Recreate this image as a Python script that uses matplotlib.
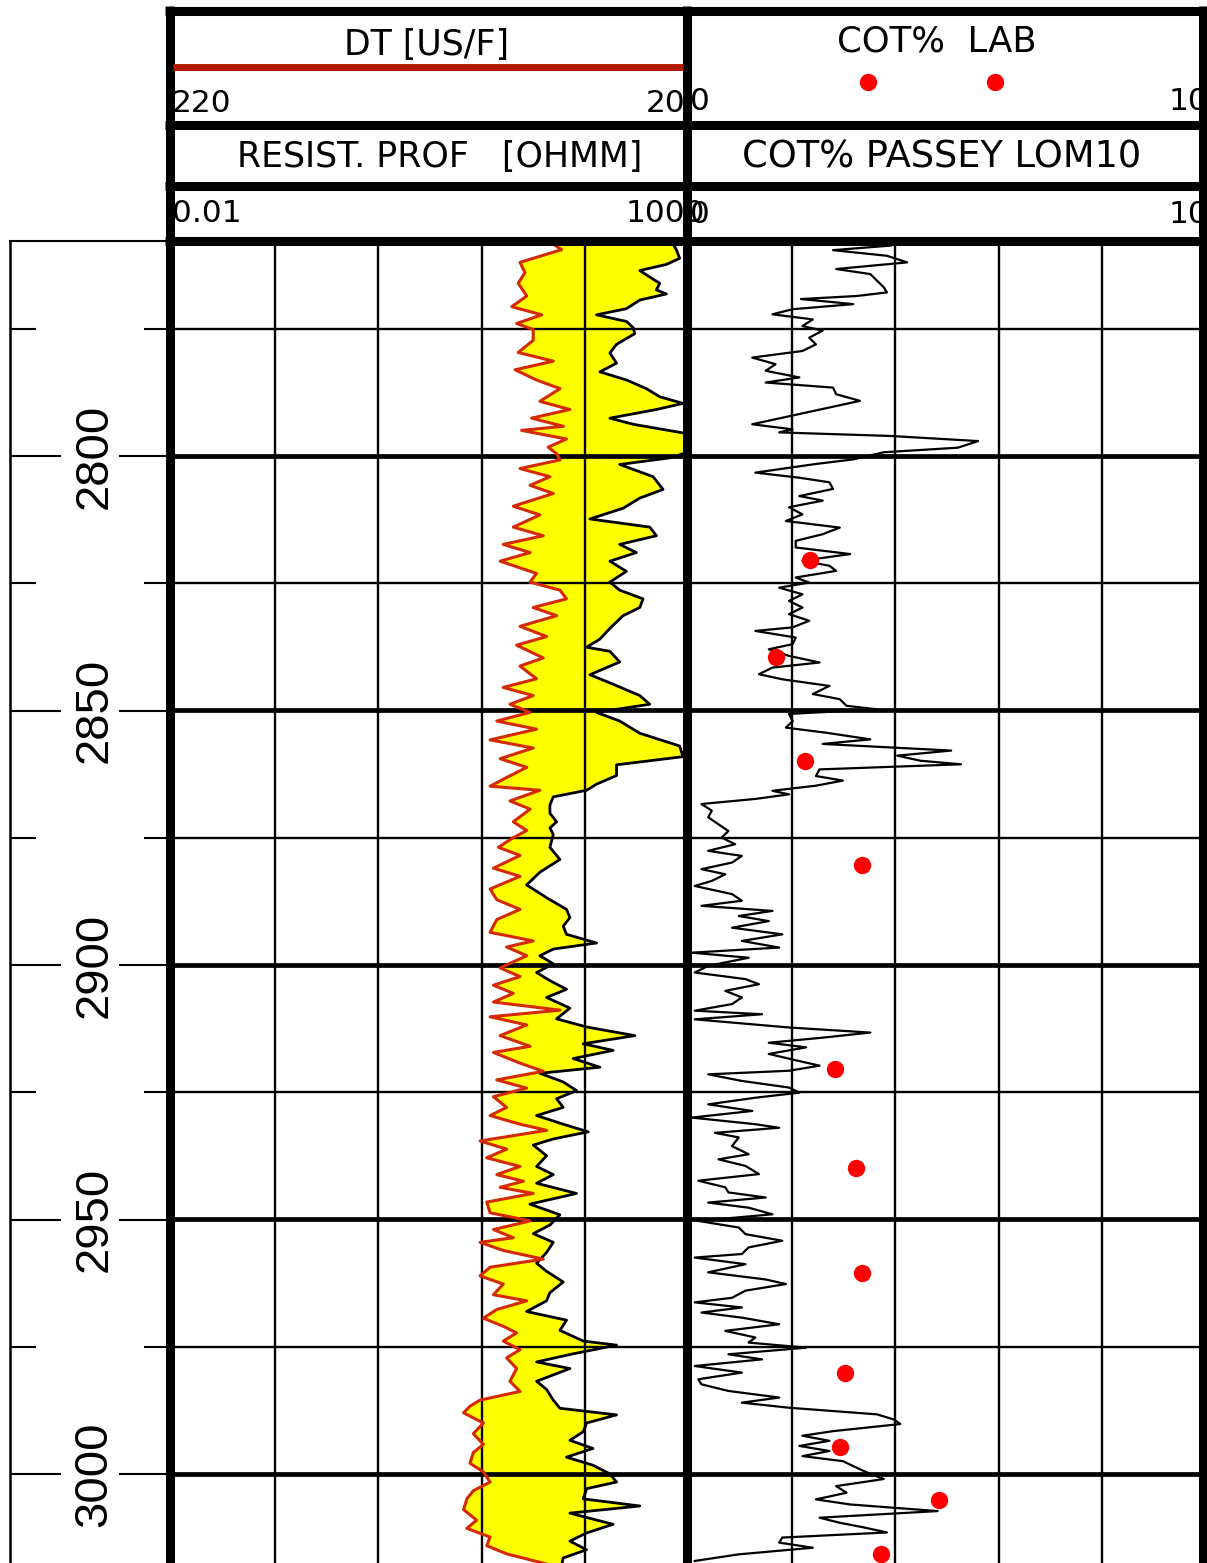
import numpy as np
import matplotlib
matplotlib.use("Agg")
import matplotlib.pyplot as plt
import matplotlib.transforms as mtransforms

# profondeurs affichées
depth_top, depth_bottom = 2757.7, 3017.5
major_depths = [2800, 2850, 2900, 2950, 3000]
minor_depths = [2775, 2825, 2875, 2925, 2975]

# DT [US/F]
dt_depth = [2758.4, 2759.5, 2762.0, 2764.0, 2766.1, 2768.6, 2770.7, 2772.3, 2774.0, 2775.2,
            2777.3, 2779.7, 2781.4, 2783.1, 2785.1, 2786.8, 2789.3, 2790.9, 2792.6, 2794.2,
            2795.0, 2796.7, 2798.3, 2799.6, 2800.8, 2802.5, 2804.1, 2805.8, 2807.4, 2809.9,
            2811.6, 2814.0, 2815.7, 2817.4, 2819.0, 2820.7, 2823.1, 2824.8, 2826.4, 2828.1,
            2829.8, 2831.4, 2833.5, 2835.5, 2837.2, 2839.7, 2841.3, 2843.8, 2845.5, 2847.1,
            2848.8, 2850.4, 2852.1, 2853.7, 2855.8, 2857.4, 2859.5, 2861.2, 2863.2, 2864.9,
            2865.7, 2867.8, 2869.4, 2871.9, 2873.6, 2875.2, 2876.9, 2878.5, 2881.0, 2882.6,
            2885.1, 2887.2, 2889.1, 2891.1, 2893.6, 2895.3, 2896.5, 2898.2, 2900.6, 2902.3,
            2904.0, 2905.6, 2907.3, 2908.9, 2910.2, 2911.8, 2913.9, 2916.0, 2917.2, 2919.3,
            2920.9, 2922.6, 2924.2, 2925.9, 2928.0, 2929.6, 2931.3, 2932.5, 2934.6, 2936.2,
            2937.9, 2939.6, 2941.2, 2942.5, 2943.7, 2944.9, 2946.6, 2948.7, 2950.3, 2952.0,
            2953.6, 2954.5, 2956.1, 2957.8, 2959.4, 2961.1, 2962.7, 2964.8, 2966.0, 2967.7,
            2969.4, 2971.0, 2972.3, 2973.9, 2975.6, 2977.2, 2979.3, 2981.8, 2983.8, 2985.5,
            2986.7, 2988.0, 2990.0, 2992.1, 2994.2, 2995.8, 2997.9, 2999.6, 3001.6, 3003.3,
            3004.9, 3007.0, 3009.1, 3010.7, 3012.4, 3014.1, 3015.7, 3017.7]
dt_us = [72.2, 69.0, 85.1, 83.2, 85.8, 82.5, 88.3, 76.7, 86.4, 80.0,
         80.0, 85.8, 72.2, 87.0, 78.7, 69.6, 77.4, 65.8, 80.6, 68.3,
         84.5, 67.1, 74.2, 70.9, 69.6, 85.1, 73.5, 81.2, 72.2, 87.7,
         77.4, 87.7, 76.1, 91.6, 81.2, 92.8, 78.7, 81.2, 69.6, 67.1,
         80.0, 70.9, 85.1, 74.8, 86.4, 76.1, 85.1, 78.7, 91.6, 80.0,
         89.0, 81.2, 94.1, 78.7, 96.7, 80.0, 92.8, 82.5, 90.3, 96.7,
         77.4, 89.0, 81.2, 87.7, 82.5, 88.3, 93.5, 85.1, 95.4, 85.1,
         96.7, 94.1, 85.1, 94.1, 96.7, 80.0, 90.3, 82.5, 92.8, 85.1,
         95.4, 87.7, 95.4, 69.6, 96.7, 82.5, 92.8, 81.2, 95.4, 85.1,
         76.1, 94.1, 82.5, 95.4, 90.3, 96.7, 85.1, 74.8, 100.6, 90.3,
         98.0, 85.1, 94.1, 83.8, 92.8, 80.0, 98.0, 96.7, 81.2, 95.4,
         87.7, 100.6, 91.6, 76.1, 96.7, 100.6, 91.6, 95.4, 82.5, 94.1,
         99.3, 91.6, 86.4, 91.6, 85.1, 90.3, 86.4, 89.0, 85.1, 100.6,
         104.5, 107.0, 99.3, 103.2, 99.3, 103.2, 104.5, 99.3, 96.7, 103.2,
         105.7, 107.0, 101.9, 105.7, 96.7, 98.0, 90.3, 74.8]

# RESIST. PROF [OHMM]
res_depth = [2758.4, 2759.5, 2761.2, 2762.4, 2763.6, 2765.3, 2766.1, 2767.4, 2768.2, 2769.4,
             2771.1, 2772.3, 2773.6, 2774.8, 2776.0, 2778.1, 2779.8, 2781.8, 2783.5, 2785.1,
             2786.8, 2788.4, 2789.7, 2790.9, 2792.6, 2793.8, 2795.5, 2796.7, 2798.8, 2800.4,
             2801.7, 2804.1, 2806.6, 2808.3, 2810.3, 2812.4, 2814.0, 2815.7, 2817.4, 2819.0,
             2820.7, 2822.7, 2824.8, 2826.4, 2828.1, 2829.8, 2831.4, 2833.9, 2836.0, 2837.6,
             2838.4, 2840.5, 2843.0, 2844.6, 2847.1, 2848.8, 2850.4, 2852.1, 2854.5, 2857.0,
             2859.1, 2860.7, 2862.8, 2864.5, 2865.7, 2867.0, 2868.6, 2870.2, 2871.9, 2873.1,
             2874.4, 2876.9, 2879.3, 2881.8, 2884.3, 2886.8, 2889.1, 2890.7, 2892.4, 2894.0,
             2895.7, 2896.9, 2898.2, 2899.8, 2901.5, 2903.1, 2904.8, 2906.4, 2908.5, 2910.6,
             2912.2, 2913.9, 2915.5, 2916.8, 2918.4, 2920.1, 2921.3, 2923.0, 2924.7, 2926.3,
             2928.0, 2929.6, 2931.3, 2932.8, 2934.2, 2935.4, 2937.5, 2939.6, 2941.2, 2942.9,
             2944.9, 2947.0, 2949.1, 2951.1, 2952.8, 2954.5, 2956.5, 2958.6, 2960.2, 2962.3,
             2964.4, 2966.0, 2968.1, 2969.8, 2971.8, 2973.9, 2974.7, 2976.4, 2978.0, 2979.3,
             2981.8, 2983.4, 2985.5, 2987.1, 2988.4, 2990.0, 2991.7, 2993.4, 2995.0, 2996.7,
             2998.3, 3000.0, 3001.6, 3002.9, 3004.9, 3006.3, 3007.7, 3009.9, 3011.6, 3013.2,
             3014.9, 3016.5, 3017.7]
res_ohmm = [716, 771, 830, 617, 341, 459, 532, 494, 617, 341,
            253, 130, 253, 294, 305, 203, 175, 203, 140, 253,
            395, 532, 895, 494, 175, 294, 895, 1200, 1200, 665,
            218, 459, 573, 341, 235, 112, 426, 494, 218, 316,
            175, 253, 175, 218, 367, 341, 235, 175, 140, 104,
            175, 218, 112, 175, 341, 426, 130, 218, 341, 830,
            895, 203, 203, 130, 104, 49.5, 45.9, 45.9, 53.3, 45.9,
            49.5, 45.9, 57.4, 36.7, 27.3, 42.6, 66.5, 71.7, 61.8, 66.5,
            130, 49.5, 36.7, 49.5, 34.1, 45.9, 66.5, 42.6, 71.7, 53.3,
            104, 305, 96.6, 188, 77.3, 140, 36.7, 61.8, 83.2, 53.3,
            61.8, 34.1, 61.8, 108, 49.5, 31.7, 42.6, 34.1, 49.5, 34.1,
            83.2, 29.4, 57.4, 45.9, 31.7, 49.5, 42.6, 34.1, 42.6, 61.8,
            45.9, 42.6, 27.3, 66.5, 57.4, 96.6, 203, 77.3, 34.1, 71.7,
            34.1, 42.6, 49.5, 57.4, 203, 104, 96.6, 71.7, 120, 66.5,
            120, 175, 203, 104, 96.6, 341, 71.7, 188, 104, 71.7,
            104, 61.8, 60]

# COT% PASSEY LOM10
lom_depth = [2758.7, 2759.6, 2760.7, 2762.0, 2763.3, 2764.3, 2765.6, 2766.9, 2767.9, 2768.6,
             2769.2, 2770.2, 2771.2, 2772.2, 2773.2, 2774.5, 2775.4, 2776.8, 2778.1, 2779.4,
             2780.7, 2782.0, 2783.3, 2784.6, 2785.6, 2786.6, 2787.9, 2789.2, 2790.5, 2791.8,
             2793.8, 2794.8, 2795.4, 2796.1, 2797.1, 2798.4, 2799.3, 2800.7, 2801.6, 2803.3,
             2804.3, 2805.2, 2806.5, 2807.9, 2808.8, 2810.1, 2811.5, 2812.8, 2814.1, 2815.4,
             2816.7, 2818.0, 2819.3, 2820.6, 2821.6, 2822.6, 2823.9, 2824.9, 2825.9, 2827.2,
             2828.5, 2829.8, 2831.1, 2832.4, 2833.7, 2834.4, 2835.7, 2837.0, 2838.0, 2839.3,
             2840.6, 2841.6, 2842.9, 2843.9, 2845.2, 2846.8, 2847.8, 2849.1, 2849.8, 2850.7,
             2852.1, 2853.4, 2854.4, 2855.7, 2856.6, 2857.9, 2858.9, 2859.9, 2860.6, 2861.6,
             2862.9, 2863.8, 2864.8, 2865.8, 2866.5, 2867.4, 2868.4, 2869.7, 2871.0, 2872.4,
             2873.7, 2875.0, 2876.3, 2877.6, 2878.6, 2879.9, 2881.2, 2882.2, 2883.5, 2884.5,
             2886.1, 2887.4, 2888.4, 2889.4, 2890.4, 2891.4, 2892.7, 2894.0, 2895.3, 2896.6,
             2897.6, 2898.6, 2900.2, 2901.5, 2902.8, 2903.8, 2905.1, 2906.4, 2907.7, 2909.0,
             2909.7, 2910.7, 2912.3, 2913.3, 2914.3, 2915.3, 2916.2, 2917.5, 2918.9, 2919.8,
             2920.8, 2921.5, 2922.8, 2924.1, 2925.1, 2926.1, 2927.4, 2928.7, 2930.0, 2931.3,
             2932.0, 2933.0, 2933.9, 2935.6, 2937.2, 2938.2, 2939.5, 2941.1, 2942.4, 2943.7,
             2944.7, 2945.7, 2946.7, 2947.7, 2949.0, 2950.3, 2951.6, 2952.9, 2954.2, 2955.5,
             2956.8, 2957.5, 2958.8, 2960.4, 2961.8, 2962.7, 2964.0, 2965.4, 2966.3, 2967.3,
             2968.3, 2969.3, 2970.6, 2971.9, 2973.2, 2974.2, 2975.2, 2976.5, 2977.5, 2978.8,
             2980.1, 2981.4, 2982.4, 2983.7, 2985.0, 2986.0, 2987.0, 2988.3, 2989.3, 2990.2,
             2991.6, 2992.5, 2993.5, 2994.5, 2995.5, 2996.5, 2997.5, 2998.8, 2999.7, 3001.0,
             3002.4, 3003.7, 3005.0, 3006.0, 3007.3, 3008.6, 3009.6, 3010.5, 3011.5, 3012.5,
             3013.5, 3014.5, 3015.8, 3017.1]
lom_cot = [3.91, 2.80, 3.84, 4.23, 2.86, 3.52, 3.65, 3.78, 3.84, 3.26,
           2.18, 3.19, 2.02, 1.63, 2.41, 2.21, 2.60, 2.34, 2.47, 2.21,
           1.24, 1.69, 1.50, 2.15, 1.50, 2.80, 2.86, 3.32, 2.73, 2.15,
           1.24, 2.02, 1.76, 3.91, 5.60, 5.21, 3.78, 3.19, 2.47, 1.30,
           2.15, 2.73, 2.80, 2.15, 2.60, 1.95, 2.21, 1.89, 2.93, 2.60,
           2.08, 2.08, 3.13, 2.21, 2.73, 2.86, 2.08, 2.34, 1.76, 2.21,
           1.95, 2.21, 1.95, 2.34, 2.02, 1.30, 2.08, 2.02, 1.56, 1.95,
           2.54, 1.63, 1.37, 1.82, 2.73, 2.41, 2.93, 3.06, 3.65, 1.95,
           2.02, 1.89, 2.67, 3.52, 2.60, 5.08, 4.04, 4.49, 5.27, 2.54,
           2.47, 2.99, 2.47, 1.63, 1.95, 1.30, 0.26, 0.46, 0.39, 0.59,
           0.78, 0.65, 0.91, 0.39, 1.04, 0.85, 0.26, 0.72, 0.46, 0.13,
           0.85, 1.04, 0.26, 1.63, 0.98, 1.56, 0.85, 1.82, 1.04, 1.76,
           0.07, 1.17, 0.39, 0.13, 1.11, 1.37, 0.72, 1.04, 0.85, 0.13,
           1.43, 0.13, 1.95, 3.52, 2.60, 1.56, 2.28, 1.56, 2.15, 2.54,
           1.95, 0.39, 1.04, 1.95, 2.15, 1.30, 0.39, 1.24, 0.07, 1.30,
           1.76, 0.52, 0.98, 0.85, 1.17, 0.59, 1.11, 1.37, 0.20, 0.72,
           0.78, 1.50, 0.39, 1.17, 1.63, 0.20, 0.98, 1.11, 1.82, 1.17,
           1.04, 0.13, 1.11, 0.39, 1.50, 1.89, 1.11, 0.85, 0.13, 1.04,
           0.26, 1.04, 1.76, 0.72, 1.30, 1.17, 2.28, 0.78, 1.43, 0.13,
           1.04, 0.20, 0.26, 0.78, 1.76, 1.04, 1.95, 3.65, 3.97, 4.10,
           2.80, 2.21, 2.73, 2.15, 2.73, 2.21, 2.99, 3.26, 3.45, 3.78,
           2.86, 3.06, 2.47, 3.13, 4.82, 2.54, 2.93, 3.39, 3.84, 1.82,
           1.76, 2.41, 0.98, 0.13]

# COT% LAB
lab_depth = [2820.5, 2839.6, 2860.0, 2880.4, 2920.5, 2940.0, 2960.5, 2980.2, 2994.7, 3005.2, 3015.7]
lab_cot = [2.36, 1.69, 2.26, 3.36, 2.83, 3.24, 3.35, 3.04, 2.93, 4.84, 3.72]

W, H = 1207, 1563
fig = plt.figure(figsize=(W / 100, H / 100), dpi=100)


def box(x0, y0, x1, y1):
    # rectangle en pixels (origine en haut a gauche) -> fraction de figure
    return [x0 / W, 1 - y1 / H, (x1 - x0) / W, (y1 - y0) / H]


thin, thick = 1.7, 3.4

# --- piste 1 : resistivite + DT
ax_r = fig.add_axes(box(172, 240.5, 688, H))
ax_r.set_xscale("log")
ax_r.set_xlim(0.01, 1000)
ax_r.set_ylim(depth_bottom, depth_top)
ax_r.set_axis_off()

ax_dt = ax_r.twiny()
ax_dt.set_xlim(220, 20)
ax_dt.set_ylim(depth_bottom, depth_top)
ax_dt.set_axis_off()

# remplissage jaune entre DT et resistivite (DT ramene sur l'echelle log)
y_all = np.union1d(res_depth, dt_depth)
r_res = 10 ** np.interp(y_all, res_depth, np.log10(res_ohmm))
dt_i = np.interp(y_all, dt_depth, dt_us)
r_dt = 10 ** (-2 + 5 * (220 - dt_i) / (220 - 20))
ax_r.fill_betweenx(y_all, r_dt, r_res, where=r_res > r_dt, interpolate=True,
                   color="#ffff00", lw=0, zorder=1)

for v in [0.1, 1, 10, 100]:
    ax_r.axvline(v, color="black", lw=thin, zorder=2)
for d in minor_depths:
    ax_r.axhline(d, color="black", lw=thin, zorder=2)
for d in major_depths:
    ax_r.axhline(d, color="black", lw=thick, zorder=2)

ax_r.plot(res_ohmm, res_depth, color="black", lw=2.0, zorder=3)
ax_dt.plot(dt_us, dt_depth, color="#d42a00", lw=2.2, zorder=3)

# --- piste 2 : COT
ax_c = fig.add_axes(box(688, 240.5, 1206, H))
ax_c.set_xlim(0, 10)
ax_c.set_ylim(depth_bottom, depth_top)
ax_c.set_axis_off()
for v in [2, 4, 6, 8]:
    ax_c.axvline(v, color="black", lw=thin, zorder=2)
for d in minor_depths:
    ax_c.axhline(d, color="black", lw=thin, zorder=2)
for d in major_depths:
    ax_c.axhline(d, color="black", lw=thick, zorder=2)
ax_c.plot(lom_cot, lom_depth, color="black", lw=1.6, zorder=3)
ax_c.plot(lab_cot, lab_depth, "o", color="#ff0000", ms=12.5, mec="none", zorder=4)

# --- axe des profondeurs
ax_d = fig.add_axes(box(10, 241, 169.5, H))
ax_d.set_ylim(depth_bottom, depth_top)
ax_d.set_xticks([])
ax_d.set_yticks(major_depths)
ax_d.set_yticks(minor_depths, minor=True)
ax_d.tick_params(axis="y", which="both", direction="in", left=True, right=True,
                 labelleft=False, width=1.5, color="black")
ax_d.tick_params(axis="y", which="major", length=36.5)
ax_d.tick_params(axis="y", which="minor", length=19)
for s in ["right", "bottom"]:
    ax_d.spines[s].set_visible(False)
ax_d.spines["left"].set_linewidth(1.8)
ax_d.spines["top"].set_linewidth(1.5)
trans = mtransforms.blended_transform_factory(ax_d.transAxes, ax_d.transData)
for d in major_depths:
    ax_d.text(0.53, d, str(d), transform=trans, rotation=90, ha="center", va="center",
              fontsize=34, family="Liberation Sans")

# --- cadre et en-tetes
ax_f = fig.add_axes([0, 0, 1, 1])
ax_f.set_xlim(0, W)
ax_f.set_ylim(H, 0)
ax_f.set_axis_off()
ax_f.patch.set_visible(False)

border = 6.5
for x in [169.5, 687, 1203]:
    ax_f.plot([x, x], [6, H], color="black", lw=border, solid_capstyle="butt")
for y in [10.5, 125, 186, 240.5]:
    ax_f.plot([165, 1207], [y, y], color="black", lw=border, solid_capstyle="butt")

ax_f.plot([173, 683], [67, 67], color="#b31900", lw=5, solid_capstyle="butt")
ax_f.plot([868, 995], [82, 82], "o", color="#ff0000", ms=12.5, mec="none")

title_kw = dict(family="DejaVu Sans", color="black", va="baseline")
ax_f.text(426.5, 55, "DT [US/F]", ha="center", fontsize=25, **title_kw)
ax_f.text(440, 167, "RESIST. PROF   [OHMM]", ha="center", fontsize=25, **title_kw)
ax_f.text(937, 52, "COT%  LAB", ha="center", fontsize=25.5, **title_kw)
ax_f.text(942, 168, "COT% PASSEY LOM10", ha="center", fontsize=26.5, **title_kw)

ax_f.text(172, 112, "220", ha="left", fontsize=22.5, **title_kw)
ax_f.text(686, 112, "20", ha="right", fontsize=22.5, **title_kw)
ax_f.text(172, 222, "0.01", ha="left", fontsize=22.5, **title_kw)
ax_f.text(705, 222, "1000", ha="right", fontsize=22.5, **title_kw)
ax_f.text(690, 110, "0", ha="left", fontsize=22.5, **title_kw)
ax_f.text(1208, 110, "10", ha="right", fontsize=22.5, **title_kw)
ax_f.text(690, 223, "0", ha="left", fontsize=22.5, **title_kw)
ax_f.text(1208, 223, "10", ha="right", fontsize=22.5, **title_kw)

fig.savefig("out.png", dpi=100)
